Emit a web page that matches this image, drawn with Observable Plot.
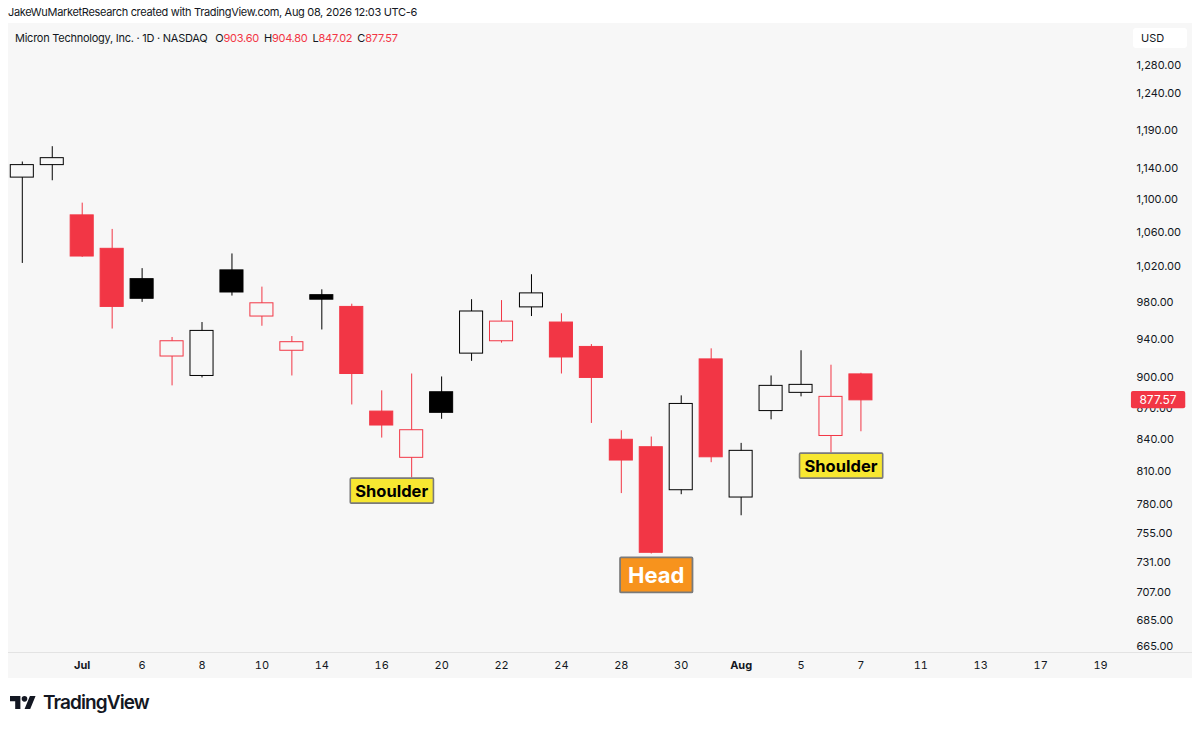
<!DOCTYPE html>
<html>
<head>
<meta charset="utf-8">
<script src="https://cdn.jsdelivr.net/npm/d3@7"></script>
<script src="https://cdn.jsdelivr.net/npm/@observablehq/plot@0.6"></script>
<style>
  html, body { margin: 0; padding: 0; background: #ffffff; }
  body { width: 1200px; height: 729px; overflow: hidden; position: relative; font-family: Inter, "Noto Sans", sans-serif; color: #131722; }
  #hdr { position: absolute; left: 8px; top: 5px; font-size: 11px; letter-spacing: -0.32px; white-space: nowrap; }
  #panel { position: absolute; left: 8px; top: 23px; width: 1184px; height: 655px; background: #f7f7f7; }
  #legend { position: absolute; left: 7px; top: 8px; font-size: 11px; letter-spacing: -0.25px; white-space: nowrap; z-index: 2; }
  #legend .v { color: #f23645; margin-right: 5px; }
  #legend .nm { margin-right: 5px; }
  #usd { position: absolute; left: 1125px; top: 5px; width: 54px; height: 20px; background: #ffffff; border-radius: 3px; font-size: 11px; line-height: 20px; box-sizing: border-box; padding-left: 8px; z-index: 2; }
  #sep { position: absolute; left: 0; top: 629px; width: 1184px; height: 1px; background: #e3e3e3; }
  #chart { position: absolute; left: 0; top: 0; }
  #logo { position: absolute; left: 10px; top: 691px; display: flex; align-items: center; }
  #logo span { font-size: 19px; font-weight: 600; margin-left: 7px; letter-spacing: -0.9px; color: #131722; }
</style>
</head>
<body>
<div id="hdr">JakeWuMarketResearch created with TradingView.com, Aug 08, 2026 12:03 UTC-6</div>
<div id="panel">
  <div id="legend"></div>
  <div id="usd">USD</div>
  <div id="chart"></div>
  <div id="sep"></div>
</div>
<div id="logo">
  <svg width="26" height="13.4" viewBox="0 4 35 18">
    <path d="M14 22H7V11H0V4h14z" fill="#131722"/>
    <circle cx="19.5" cy="7.8" r="3.8" fill="#131722"/>
    <path d="M27 22h-7.6l7.4-18h7.6z" fill="#131722"/>
  </svg>
  <span>TradingView</span>
</div>
<script>
// ---- data ----
const symbol = "Micron Technology, Inc. · 1D · NASDAQ";
const dates  = ["Jun 29","Jun 30","Jul 1","Jul 2","Jul 6","Jul 7","Jul 8","Jul 9","Jul 10","Jul 13","Jul 14","Jul 15","Jul 16","Jul 17","Jul 20","Jul 21","Jul 22","Jul 23","Jul 24","Jul 27","Jul 28","Jul 29","Jul 30","Jul 31","Aug 3","Aug 4","Aug 5","Aug 6","Aug 7"];
const opens  = [1128,1144,1081,1041,1006,922,902,1016,964.5,928,988,975,866.5,822.5,885.6,925,938,974.5,958,932,839.4,832.4,793,919,786.5,867,885,843,903.60];
const highs  = [1148,1168,1096,1064,1018,942,958,1035,997,943,994,978,887,904,901,983,982,1011,967.5,934.5,848,842,882,930,836,902,928,913,904.80];
const lows   = [1024,1124,1031,951,980,892,900,987,954,902,950,873,841,804,859,917,936,964.5,904,855,790,738,789,818,770.5,858.5,881,827,847.02];
const closes = [1144,1153,1032,975,984,938,949,991,979,937,983,904,853,848.5,865.3,970,959,990,921,900,820,739,874,823,829,892,893,881,877.57];
const futureDates = ["Aug 10","Aug 11","Aug 12","Aug 13","Aug 14","Aug 17","Aug 18","Aug 19","Aug 20"];
const tickDates  = ["Jul 1","Jul 6","Jul 8","Jul 10","Jul 14","Jul 16","Jul 20","Jul 22","Jul 24","Jul 28","Jul 30","Aug 3","Aug 5","Aug 7","Aug 11","Aug 13","Aug 17","Aug 19"];
const monthStarts = ["Jul 1","Aug 3"];
const priceTicks = [1280,1240,1190,1140,1100,1060,1020,980,940,900,870,840,810,780,755,731,707,685,665];
const annotations = ["Shoulder","Head","Shoulder"];
const annDates  = ["Jul 16","Jul 29","Aug 6"];
const annPrices = [792, 720, 814.6];

// ---- derived table ----
const allDates = dates.concat(futureDates);
const idx = d => allDates.indexOf(d);
const candles = dates.map((d, i) => {
  const up = closes[i] >= opens[i];
  const rising = i === 0 ? true : closes[i] >= closes[i - 1];
  return {i, date: d, open: opens[i], high: highs[i], low: lows[i], close: closes[i],
          hollow: up, color: rising ? "#000000" : "#f23645"};
});
const ann = annotations.map((t, k) => ({text: t, i: idx(annDates[k]), price: annPrices[k]}));
const last = candles[candles.length - 1];

// legend
const fmt2 = d3.format(".2f");
const fmtPrice = d3.format(",.2f");
document.getElementById("legend").innerHTML =
  `<span class="nm">${symbol}</span> O<span class="v">${fmt2(last.open)}</span>H<span class="v">${fmt2(last.high)}</span>L<span class="v">${fmt2(last.low)}</span>C<span class="v">${fmt2(last.close)}</span>`;

const BG = "#f7f7f7";
const half = 0.385;

const chart = Plot.plot({
  width: 1184,
  height: 655,
  marginLeft: 0,
  marginRight: 65,
  marginTop: 0,
  marginBottom: 25,
  style: {background: "transparent", fontFamily: "Inter, 'Noto Sans', sans-serif", fontSize: "11px", color: "#131722", overflow: "visible"},
  x: {type: "linear", domain: [-0.461, 36.90], axis: null},
  y: {type: "log", domain: [659.7, 1342], axis: null},
  marks: [
    Plot.ruleX(candles, {x: "i", y1: "low", y2: "high", stroke: "color", strokeWidth: 1}),
    Plot.rect(candles, {
      x1: d => d.i - half, x2: d => d.i + half,
      y1: "open", y2: "close",
      fill: d => d.hollow ? BG : d.color,
      stroke: "color", strokeWidth: 1
    }),
    // price axis labels (right side)
    Plot.text(priceTicks, {y: d => d, text: d => fmtPrice(d), frameAnchor: "right", dx: 9,
      textAnchor: "start", fontSize: 11, fill: "#131722"}),
    // date axis
    Plot.axisX({ticks: tickDates.filter(d => !monthStarts.includes(d)).map(idx), anchor: "bottom", label: null,
      tickSize: 0, tickPadding: 8, fontSize: 11, fill: "#131722",
      tickFormat: i => allDates[i].split(" ")[1]}),
    Plot.axisX({ticks: monthStarts.map(idx), anchor: "bottom", label: null,
      tickSize: 0, tickPadding: 8, fontSize: 11, fontWeight: "bold", fill: "#131722",
      tickFormat: i => allDates[i].split(" ")[0]}),
    // pattern annotations
    Plot.text(ann.filter(a => a.text === "Shoulder"), {x: "i", y: "price", text: "text", dx: 10,
      fontSize: 16.5, fontWeight: "bold", fill: "#000000"}),
    Plot.text(ann.filter(a => a.text === "Head"), {x: "i", y: "price", text: "text", dx: 5,
      fontSize: 22, fontWeight: "bold", fill: "#ffffff"}),
    // last price label
    Plot.text([last], {y: "close", text: d => fmt2(d.close), frameAnchor: "right", dx: 30.5,
      textAnchor: "middle", fontSize: 12, fill: "#ffffff"})
  ]
});
document.getElementById("chart").appendChild(chart);

// backgrounds behind boxed texts (matched by their text content)
const boxStyles = [
  {match: "Shoulder", padX: 5, padY: 2.5, fill: "#f7e731", stroke: "#7a7a7a", sw: 1.6, rx: 1},
  {match: "Head", padX: 8, padY: 4.5, fill: "#f7931d", stroke: "#7a7a7a", sw: 1.8, rx: 1},
  {match: fmt2(last.close), padX: 8.5, padY: 1.2, fill: "#f23645", stroke: "none", sw: 0, rx: 2}
];
const svgNS = "http://www.w3.org/2000/svg";
const root = chart.tagName.toLowerCase() === "svg" ? chart : chart.querySelector("svg");
root.querySelectorAll("text").forEach(t => {
  const s = boxStyles.find(b => b.match === t.textContent);
  if (!s) return;
  const b = t.getBBox();
  const r = document.createElementNS(svgNS, "rect");
  r.setAttribute("x", b.x - s.padX);
  r.setAttribute("y", b.y - s.padY);
  r.setAttribute("width", b.width + 2 * s.padX);
  r.setAttribute("height", b.height + 2 * s.padY);
  r.setAttribute("fill", s.fill);
  r.setAttribute("stroke", s.stroke);
  r.setAttribute("stroke-width", s.sw);
  r.setAttribute("rx", s.rx);
  const tr = t.getAttribute("transform");
  if (tr) r.setAttribute("transform", tr);
  t.parentNode.insertBefore(r, t);
});
</script>
</body>
</html>
